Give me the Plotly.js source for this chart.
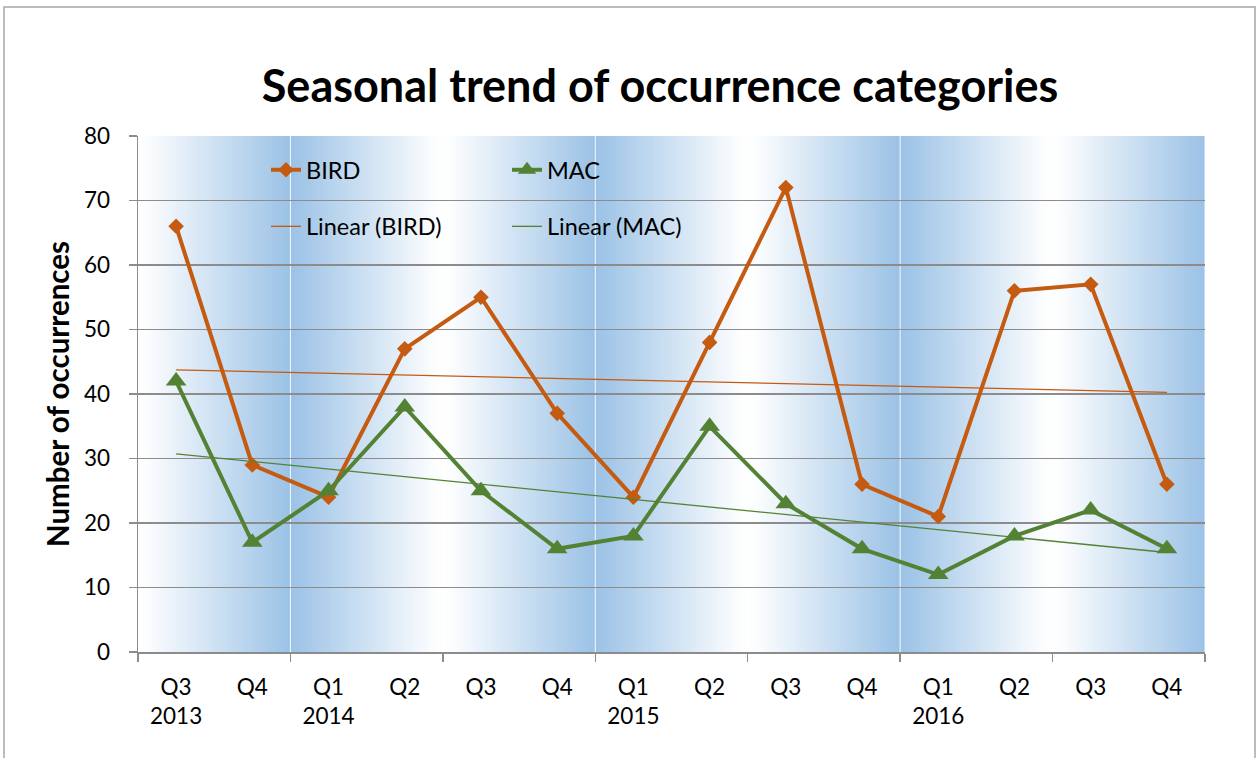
<!DOCTYPE html>
<html>
<head>
<meta charset="utf-8">
<script src="https://cdn.plot.ly/plotly-3.0.1.min.js"></script>
<style>html,body{margin:0;padding:0;background:#fff;}</style>
</head>
<body>
<div id="chart" style="width:1257px;height:758px;"></div>
<script>
// ---- data ----
const quarters = ["Q3", "Q4", "Q1", "Q2", "Q3", "Q4", "Q1", "Q2", "Q3", "Q4", "Q1", "Q2", "Q3", "Q4"];
const years    = ["2013", "", "2014", "", "", "", "2015", "", "", "", "2016", "", "", ""];
const bird     = [66, 29, 24, 47, 55, 37, 24, 48, 72, 26, 21, 56, 57, 26];
const mac      = [42, 17, 25, 38, 25, 16, 18, 35, 23, 16, 12, 18, 22, 16];

const xs = quarters.map((_, i) => i);
const tickText = quarters.map((q, i) => years[i] ? q + "<br>" + years[i] : q);

function linFit(ys) {
  const n = ys.length;
  const mx = xs.reduce((a, b) => a + b, 0) / n;
  const my = ys.reduce((a, b) => a + b, 0) / n;
  let sxy = 0, sxx = 0;
  for (let i = 0; i < n; i++) { sxy += (xs[i] - mx) * (ys[i] - my); sxx += (xs[i] - mx) ** 2; }
  const b = sxy / sxx, a = my - b * mx;
  return xs.map(x => a + b * x);
}

const ORANGE = "#C55A11";
const GREEN = "#548235";
const FONT = "Lato, 'Open Sans', sans-serif";

// gradient background (alternating bands of two quarters each)
const nBands = Math.ceil(quarters.length / 2);
const cv = document.createElement("canvas");
cv.width = 1400; cv.height = 4;
const ctx = cv.getContext("2d");
const bw = cv.width / nBands;
for (let k = 0; k < nBands; k++) {
  const g = ctx.createLinearGradient(k * bw, 0, (k + 1) * bw, 0);
  const white = "rgb(255,255,255)", blue = "rgb(155,194,230)";
  if (k % 2 === 0) { g.addColorStop(0, white); g.addColorStop(0.08, "rgb(250,252,254)"); g.addColorStop(1, blue); }
  else { g.addColorStop(0, blue); g.addColorStop(0.92, "rgb(250,252,254)"); g.addColorStop(1, white); }
  ctx.fillStyle = g;
  ctx.fillRect(Math.floor(k * bw), 0, Math.ceil(bw) + 1, cv.height);
}
const bgURL = cv.toDataURL("image/png");

const boundaries = [];
for (let k = 0; k <= nBands; k++) boundaries.push(-0.5 + 2 * k);

const traces = [
  { x: xs, y: bird, name: "BIRD", type: "scatter", mode: "lines+markers",
    line: { color: ORANGE, width: 4 }, marker: { symbol: "diamond", size: 12, color: ORANGE },
    legend: "legend", legendgroup: "a" },
  { x: xs, y: linFit(bird), name: "Linear (BIRD)", type: "scatter", mode: "lines",
    line: { color: ORANGE, width: 1.3 }, legend: "legend", legendgroup: "b" },
  { x: xs, y: mac, name: "MAC", type: "scatter", mode: "lines+markers",
    line: { color: GREEN, width: 4 }, marker: { symbol: "triangle-up", size: 18, color: GREEN },
    legend: "legend2", legendgroup: "c" },
  { x: xs, y: linFit(mac), name: "Linear (MAC)", type: "scatter", mode: "lines",
    line: { color: GREEN, width: 1.3 }, legend: "legend2", legendgroup: "d" }
];

const plotL = 138, plotR = 1205, plotT = 136, plotB = 652;
const pw = plotR - plotL, ph = plotB - plotT;
const px = v => (v - plotL) / pw;
const py = v => (plotB - v) / ph;

const shapes = boundaries.map(b => ({
  type: "line", xref: "x", yref: "paper", x0: b, x1: b, y0: 0, y1: 1,
  line: { color: "rgba(255,255,255,0.9)", width: 1 }, layer: "below"
}));
shapes.push({
  type: "rect", xref: "paper", yref: "paper",
  x0: px(4), x1: px(1255), y0: py(800), y1: py(7),
  line: { color: "#A6A6A6", width: 1.5 }, fillcolor: "rgba(0,0,0,0)"
});

const legendCommon = {
  orientation: "v", traceorder: "grouped", tracegroupgap: 23,
  bgcolor: "rgba(0,0,0,0)", borderwidth: 0,
  font: { family: FONT, size: 23.5, color: "#000" },
  xanchor: "left", yanchor: "top"
};

const layout = {
  width: 1257, height: 758,
  margin: { l: plotL, r: 1257 - plotR, t: plotT, b: 758 - plotB },
  paper_bgcolor: "#fff", plot_bgcolor: "rgba(0,0,0,0)",
  font: { family: FONT, color: "#000" },
  title: { text: "<b>Seasonal trend of occurrence categories</b>",
    font: { family: FONT, size: 45, color: "#000" },
    xref: "paper", x: px(660), xanchor: "center",
    yref: "container", y: 1 - 86 / 758, yanchor: "middle" },
  xaxis: {
    range: [-0.5, quarters.length - 0.5], tickmode: "array", tickvals: xs, ticktext: tickText,
    showgrid: false, zeroline: false, showline: true, linecolor: "#8C8C8C", linewidth: 1.5,
    ticks: "", tickfont: { family: FONT, size: 22.5, color: "#000" }, ticklabelstandoff: 14,
    minor: { tickmode: "array", tickvals: boundaries, ticks: "outside", ticklen: 8,
      tickcolor: "#8C8C8C", tickwidth: 1.5, showgrid: false },
    fixedrange: true
  },
  yaxis: {
    range: [0, 80], dtick: 10, tick0: 0,
    showgrid: true, gridcolor: "#8C8C8C", gridwidth: 1.5,
    zeroline: false, showline: true, linecolor: "#8C8C8C", linewidth: 1.5,
    ticks: "outside", ticklen: 8, tickcolor: "#8C8C8C", tickwidth: 1.5,
    tickfont: { family: FONT, size: 22.5, color: "#000" }, ticklabelstandoff: 14,
    title: { text: "<b>Number of occurrences</b>", font: { family: FONT, size: 29.5, color: "#000" }, standoff: 5 },
    fixedrange: true
  },
  legend: Object.assign({}, legendCommon, { x: px(266), y: py(148) }),
  legend2: Object.assign({}, legendCommon, { x: px(507), y: py(148) }),
  images: [{ source: bgURL, xref: "paper", yref: "paper", x: 0, y: 1, sizex: 1, sizey: 1,
    xanchor: "left", yanchor: "top", sizing: "stretch", layer: "below" }],
  shapes: shapes,
  showlegend: true
};

Plotly.newPlot("chart", traces, layout, { displayModeBar: false, staticPlot: true });
</script>
</body>
</html>
